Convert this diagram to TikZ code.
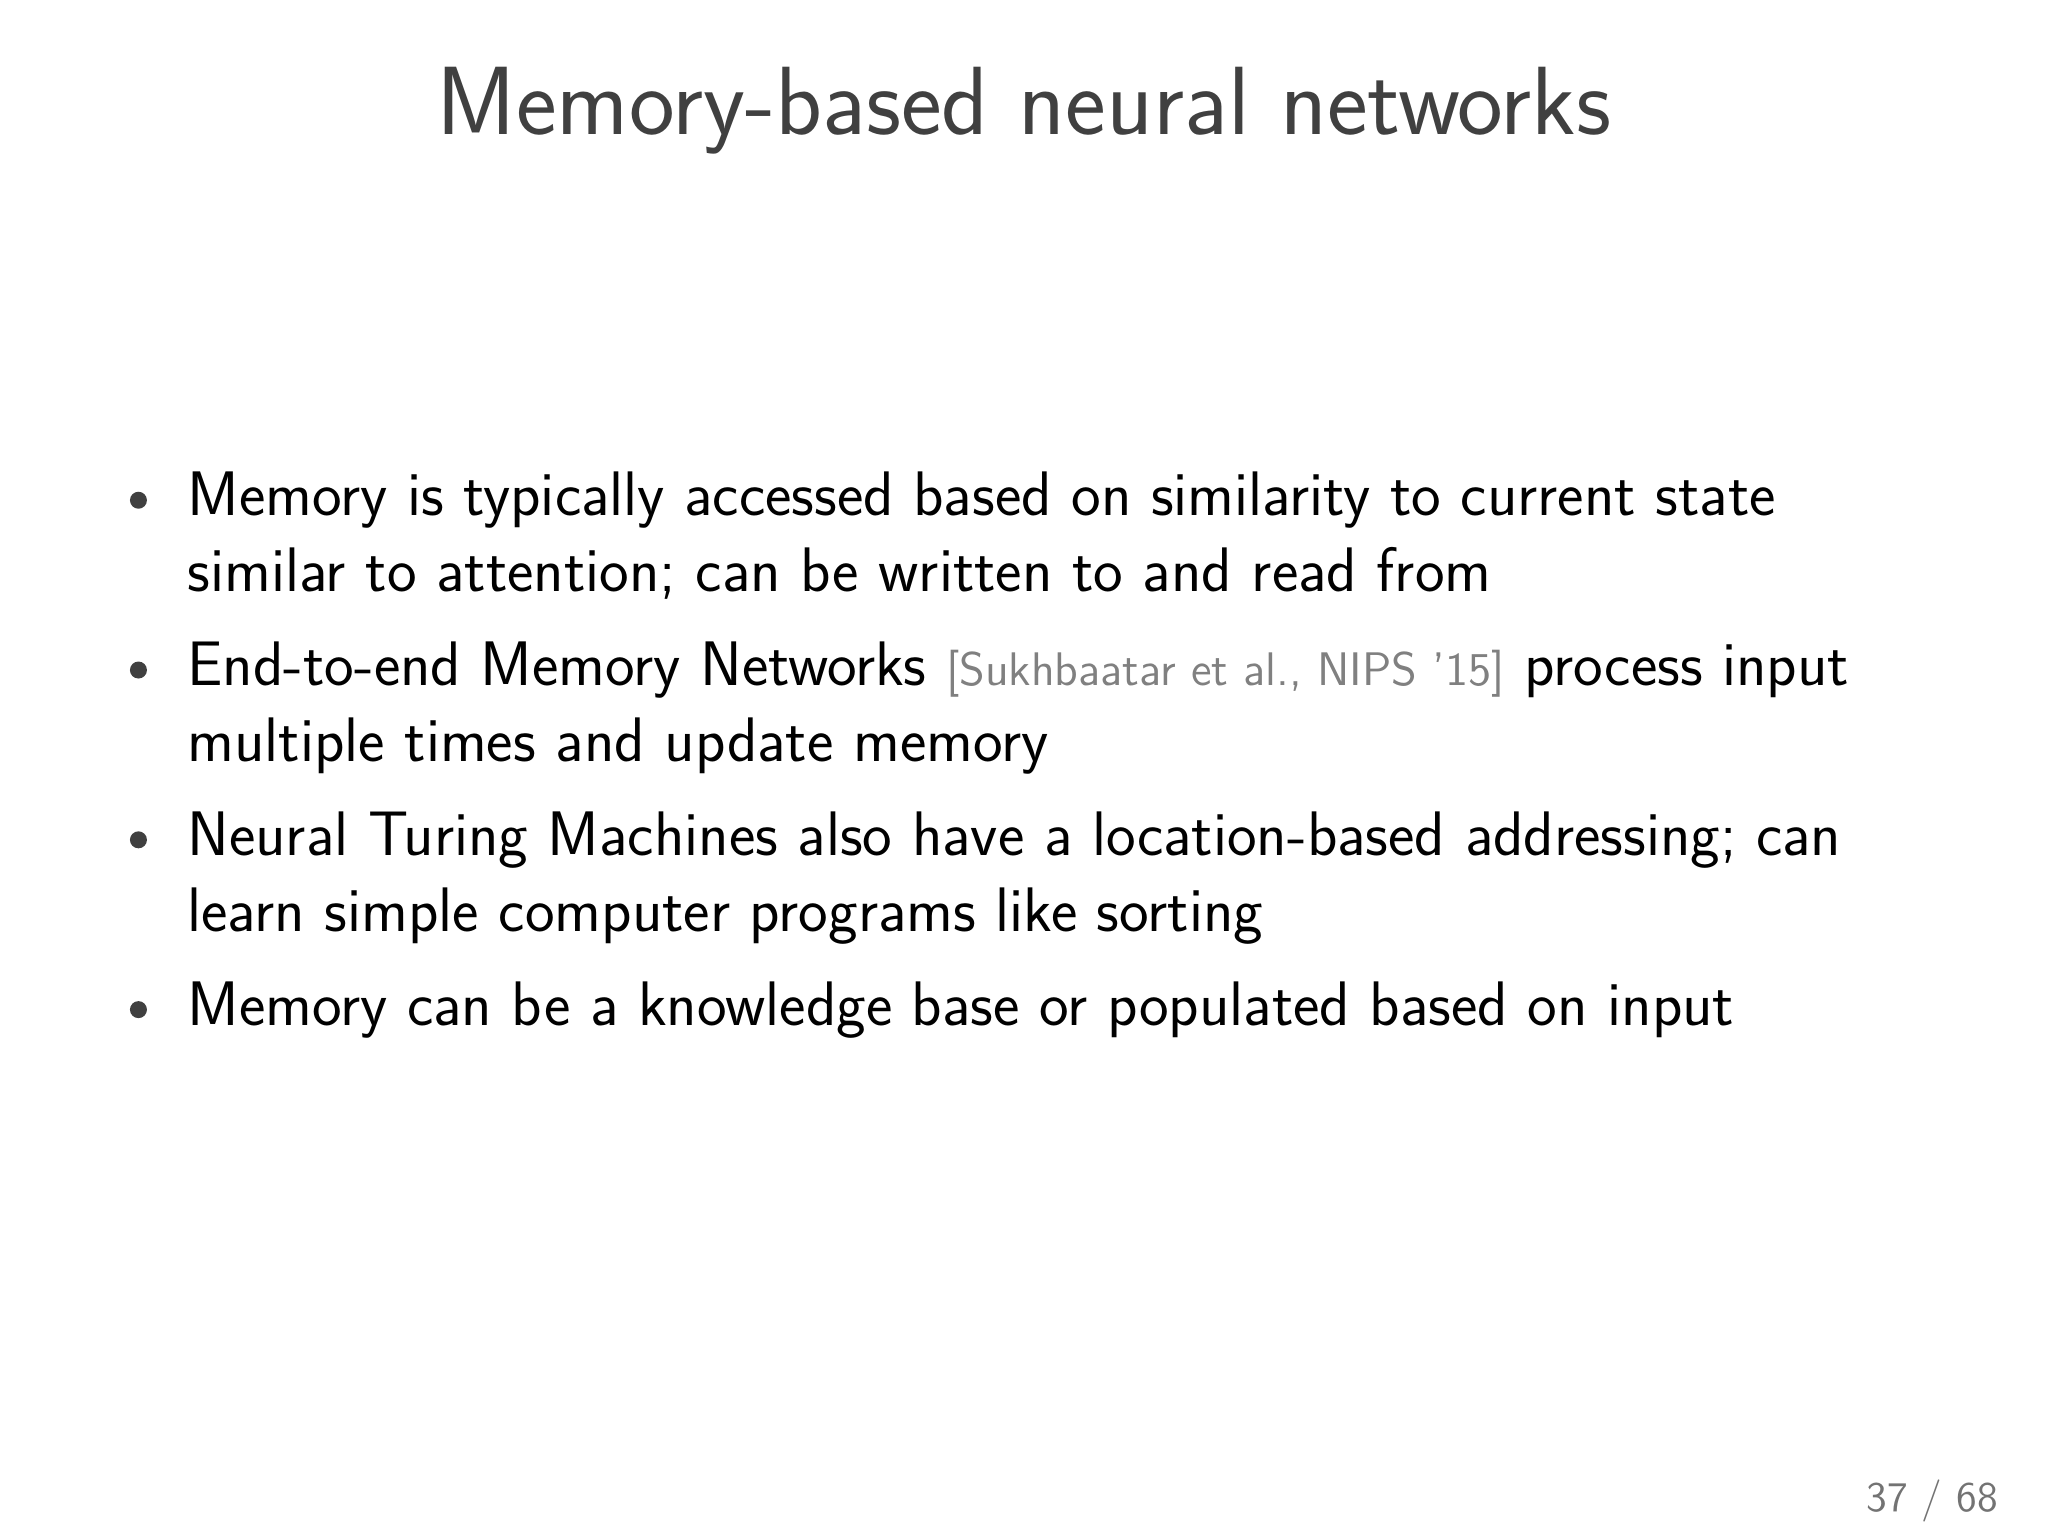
\documentclass[tikz,border=0pt]{standalone}
\begin{document}
\begin{tikzpicture}[x=0.013061cm,y=-0.013061cm,
  body/.style={anchor=base west,inner sep=0,font=\sffamily\fontsize{17.9}{21}\selectfont},
  bul/.style={circle,fill=black!75,inner sep=0,minimum size=0.17cm}]
\useasboundingbox (0,0) rectangle (1568,1176);
\node[anchor=base,inner sep=0,text=black!75,font=\sffamily\fontsize{27.6}{32}\selectfont] (title) at (784,103) {Memory-based neural networks};
\node[bul] (b1) at (106,383) {};
\node[bul] (b2) at (106,513) {};
\node[bul] (b3) at (106,643) {};
\node[bul] (b4) at (106,773) {};
\node[body] (l1) at (143,395) {Memory is typically accessed based on similarity to current state};
\node[body] (l2) at (143,453) {similar to attention; can be written to and read from};
\node[body] (l3) at (143,525) {End-to-end Memory Networks {\color{black!50}\fontsize{13.4}{16}\selectfont[Sukhbaatar et al., NIPS '15]} process input};
\node[body] (l4) at (143,583) {multiple times and update memory};
\node[body] (l5) at (143,655) {Neural Turing Machines also have a location-based addressing; can};
\node[body] (l6) at (143,713) {learn simple computer programs like sorting};
\node[body] (l7) at (143,785) {Memory can be a knowledge base or populated based on input};
\node[anchor=base east,inner sep=0,text=black!55,font=\sffamily\fontsize{12}{14}\selectfont] (pg) at (1530,1157) {37 / 68};
\end{tikzpicture}
\end{document}
